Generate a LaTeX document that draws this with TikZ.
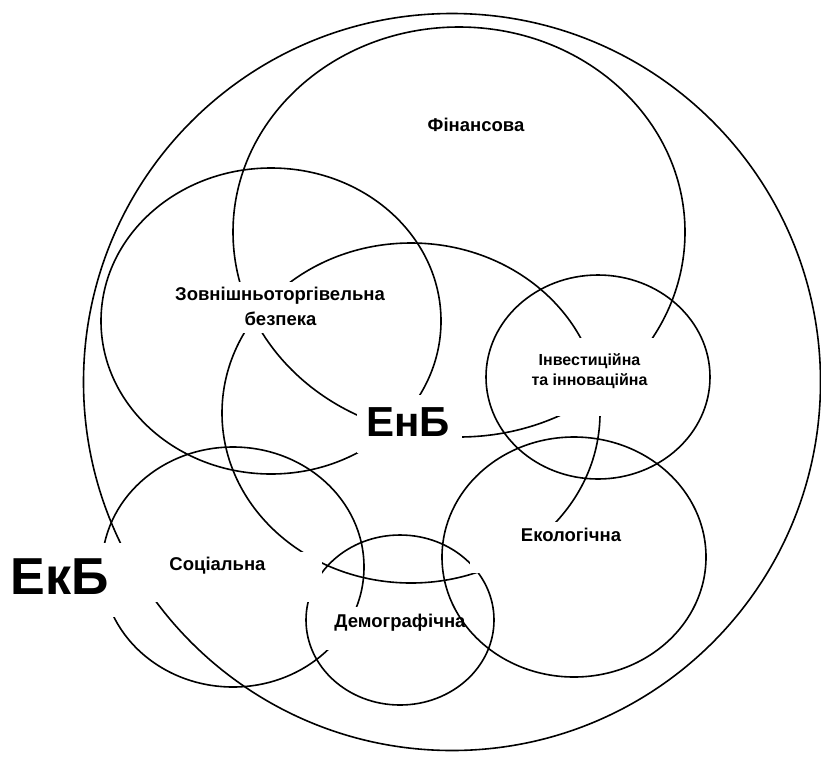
\documentclass[tikz,border=0pt]{standalone}
\usepackage{fontspec}
\setmainfont{Liberation Sans}
\begin{document}
\begin{tikzpicture}[x=1pt,y=-1pt,line width=1.6pt,
  ring/.style={draw=black},
  mask/.style={fill=white,draw=none},
  lbl/.style={font=\bfseries\fontsize{18.5}{22}\selectfont,inner sep=0pt,anchor=base},
  lblsmall/.style={font=\bfseries\fontsize{16}{19}\selectfont,inner sep=0pt,anchor=base},
  lblbig/.style={font=\bfseries\fontsize{42}{48}\selectfont,inner sep=0pt,anchor=base},
  lblhuge/.style={font=\bfseries\fontsize{52}{60}\selectfont,inner sep=0pt,anchor=base}]
\useasboundingbox (0,0) rectangle (821,758);
% shapes lying under the label boxes
\draw[ring] (452,382) circle [radius=368.5pt];                     % ЕкБ
\draw[ring] (459,232) ellipse [x radius=226pt, y radius=205pt];    % Фінансова
\draw[ring] (411,413) ellipse [x radius=189pt, y radius=170pt];    % ЕнБ
\draw[ring] (271,321) ellipse [x radius=170pt, y radius=153pt];    % Зовнішньоторгівельна
\draw[ring] (233,567) ellipse [x radius=131pt, y radius=120pt];    % Соціальна
\draw[ring] (400,620) ellipse [x radius=94pt, y radius=85pt];      % Демографічна
% white label boxes
\fill[mask] (170,282) rectangle (390,333);
\fill[mask] (357,395) rectangle (462,453);
\fill[mask] (525,338) rectangle (660,416);
\fill[mask] (470,522) rectangle (630,573);
\fill[mask] (0,543) rectangle (140,617);
\fill[mask] (135,552) rectangle (322,602);
\fill[mask] (318,607) rectangle (465,650);
% shapes above the boxes
\draw[ring] (598,377) ellipse [x radius=112pt, y radius=102pt];    % Інвестиційна
% labels
\node[lbl] (fin) at (476,131) {Фінансова};
\node[lbl] (zov1) at (280,300) {Зовнішньоторгівельна};
\node[lbl] (zov2) at (280.5,325) {безпека};
\node[lblbig] (enb) at (408,436) {ЕнБ};
\node[lblsmall] (inv1) at (589.5,365) {Інвестиційна};
\node[lblsmall] (inv2) at (589.5,385) {та інноваційна};
\node[lbl] (eko) at (571,541) {Екологічна};
\node[lbl] (soc) at (217.5,570) {Соціальна};
\node[lblhuge] (ekb) at (59.5,594) {ЕкБ};
\node[lbl] (dem) at (400,627) {Демографічна};
\draw[ring] (574,557) ellipse [x radius=132pt, y radius=120pt];    % Екологічна
\end{tikzpicture}
\end{document}
